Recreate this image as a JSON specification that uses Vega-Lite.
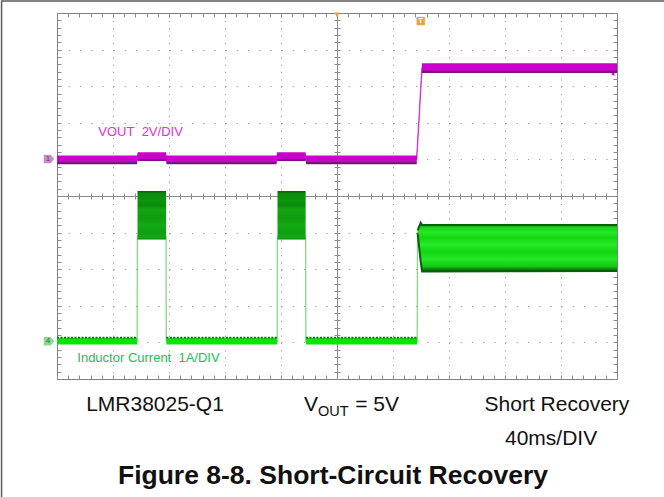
{
  "$schema": "https://vega.github.io/schema/vega-lite/v6.json",
  "width": 560,
  "height": 366,
  "autosize": {"type": "none"},
  "padding": {"left": 57, "top": 13, "right": 47, "bottom": 118},
  "background": "white",
  "config": {"view": {"stroke": "#7f7f7f", "strokeWidth": 1}, "font": "Liberation Sans"},
  "datasets": {
    "o": [{"t": 0, "d": 0}],
    "vout": [
      {"t": 0, "lo": -0.2, "hi": 0.21, "seg": "a"},
      {"t": 57.2, "lo": -0.2, "hi": 0.21, "seg": "a"},
      {"t": 57.6, "lo": -0.03, "hi": 0.39, "seg": "b"},
      {"t": 77.8, "lo": -0.03, "hi": 0.39, "seg": "b"},
      {"t": 78.2, "lo": -0.2, "hi": 0.21, "seg": "c"},
      {"t": 156.8, "lo": -0.2, "hi": 0.21, "seg": "c"},
      {"t": 157.2, "lo": -0.03, "hi": 0.39, "seg": "d"},
      {"t": 177.5, "lo": -0.03, "hi": 0.39, "seg": "d"},
      {"t": 177.9, "lo": -0.2, "hi": 0.21, "seg": "e"},
      {"t": 256.9, "lo": -0.2, "hi": 0.21, "seg": "e"},
      {"t": 260.7, "lo": 4.78, "hi": 5.25, "seg": "f"},
      {"t": 400, "lo": 4.78, "hi": 5.25, "seg": "f"}
    ],
    "vrise": [{"t": 256.9, "v": 0.0}, {"t": 260.7, "v": 5.0}],
    "ibase": [
      {"t": 0, "lo": -0.06, "hi": 0.13, "seg": "a"},
      {"t": 57.2, "lo": -0.06, "hi": 0.13, "seg": "a"},
      {"t": 78.1, "lo": -0.06, "hi": 0.13, "seg": "b"},
      {"t": 157.2, "lo": -0.06, "hi": 0.13, "seg": "b"},
      {"t": 177.8, "lo": -0.06, "hi": 0.13, "seg": "c"},
      {"t": 257.3, "lo": -0.06, "hi": 0.13, "seg": "c"}
    ],
    "ipulse": [
      {"t": 57.5, "lo": 2.81, "hi": 4.14, "seg": "p1"},
      {"t": 77.9, "lo": 2.81, "hi": 4.14, "seg": "p1"},
      {"t": 157.5, "lo": 2.81, "hi": 4.14, "seg": "p2"},
      {"t": 177.6, "lo": 2.81, "hi": 4.14, "seg": "p2"}
    ],
    "irun": [
      {"t": 257.6, "lo": 2.98, "hi": 3.06},
      {"t": 259.8, "lo": 2.2, "hi": 3.27},
      {"t": 260.8, "lo": 1.94, "hi": 3.21},
      {"t": 400, "lo": 1.95, "hi": 3.21}
    ],
    "ienv": [
      {"t": 0, "i": 0.03}, {"t": 57.25, "i": 0.03}, {"t": 57.4, "i": 2.9}, {"t": 77.9, "i": 2.9},
      {"t": 78.05, "i": 0.03}, {"t": 157.25, "i": 0.03}, {"t": 157.4, "i": 2.9}, {"t": 177.6, "i": 2.9},
      {"t": 177.75, "i": 0.03}, {"t": 257.3, "i": 0.03}, {"t": 257.5, "i": 3.0}, {"t": 258, "i": 3.0}
    ]
  },
  "resolve": {"scale": {"y": "independent"}, "axis": {"x": "independent", "y": "independent"}},
  "layer": [
    {
      "data": {"name": "o"},
      "mark": {"type": "point", "opacity": 0},
      "encoding": {
        "x": {"field": "t", "type": "quantitative", "scale": {"domain": [0, 400], "nice": false},
          "axis": {"orient": "bottom", "values": [40, 80, 120, 160, 240, 280, 320, 360], "grid": true, "gridColor": "#9a9a9a", "gridDash": [1.2, 6.12], "gridWidth": 1, "ticks": false, "labels": false, "domain": false, "title": null}},
        "y": {"field": "d", "type": "quantitative", "scale": {"domain": [-5, 5], "nice": false},
          "axis": {"orient": "left", "values": [-4, -3, -2, -1, 1, 2, 3, 4], "grid": true, "gridColor": "#9a9a9a", "gridDash": [1.2, 10], "gridWidth": 1, "ticks": false, "labels": false, "domain": false, "title": null}}
      }
    },
    {
      "data": {"name": "o"},
      "mark": {"type": "point", "opacity": 0},
      "encoding": {
        "x": {"field": "t", "type": "quantitative", "scale": {"domain": [0, 400], "nice": false},
          "axis": {"orient": "bottom", "values": [0,8,16,24,32,40,48,56,64,72,80,88,96,104,112,120,128,136,144,152,160,168,176,184,192,200,208,216,224,232,240,248,256,264,272,280,288,296,304,312,320,328,336,344,352,360,368,376,384,392,400], "grid": false, "ticks": true, "tickSize": -4, "tickColor": "#8c8c8c", "labels": false, "domain": false, "title": null}},
        "y": {"field": "d", "type": "quantitative", "scale": {"domain": [-5, 5], "nice": false},
          "axis": {"orient": "left", "values": [-5,-4.8,-4.6,-4.4,-4.2,-4,-3.8,-3.6,-3.4,-3.2,-3,-2.8,-2.6,-2.4,-2.2,-2,-1.8,-1.6,-1.4,-1.2,-1,-0.8,-0.6,-0.4,-0.2,0,0.2,0.4,0.6,0.8,1,1.2,1.4,1.6,1.8,2,2.2,2.4,2.6,2.8,3,3.2,3.4,3.6,3.8,4,4.2,4.4,4.6,4.8,5], "grid": false, "ticks": true, "tickSize": -4, "tickColor": "#8c8c8c", "labels": false, "domain": false, "title": null}}
      }
    },
    {
      "data": {"name": "o"},
      "mark": {"type": "point", "opacity": 0},
      "encoding": {
        "x": {"field": "t", "type": "quantitative", "scale": {"domain": [0, 400], "nice": false},
          "axis": {"orient": "top", "values": [0,8,16,24,32,40,48,56,64,72,80,88,96,104,112,120,128,136,144,152,160,168,176,184,192,200,208,216,224,232,240,248,256,264,272,280,288,296,304,312,320,328,336,344,352,360,368,376,384,392,400], "grid": false, "ticks": true, "tickSize": -4, "tickColor": "#8c8c8c", "labels": false, "domain": false, "title": null}},
        "y": {"field": "d", "type": "quantitative", "scale": {"domain": [-5, 5], "nice": false},
          "axis": {"orient": "right", "values": [-5,-4.8,-4.6,-4.4,-4.2,-4,-3.8,-3.6,-3.4,-3.2,-3,-2.8,-2.6,-2.4,-2.2,-2,-1.8,-1.6,-1.4,-1.2,-1,-0.8,-0.6,-0.4,-0.2,0,0.2,0.4,0.6,0.8,1,1.2,1.4,1.6,1.8,2,2.2,2.4,2.6,2.8,3,3.2,3.4,3.6,3.8,4,4.2,4.4,4.6,4.8,5], "grid": false, "ticks": true, "tickSize": -4, "tickColor": "#8c8c8c", "labels": false, "domain": false, "title": null}}
      }
    },
    {
      "data": {"name": "o"},
      "mark": {"type": "point", "opacity": 0},
      "encoding": {
        "x": {"field": "t", "type": "quantitative", "scale": {"domain": [0, 400], "nice": false},
          "axis": {"orient": "bottom", "offset": -183, "values": [0,8,16,24,32,40,48,56,64,72,80,88,96,104,112,120,128,136,144,152,160,168,176,184,192,200,208,216,224,232,240,248,256,264,272,280,288,296,304,312,320,328,336,344,352,360,368,376,384,392,400], "grid": false, "ticks": true, "tickSize": 3, "tickColor": "#8c8c8c", "labels": false, "domain": true, "domainColor": "#8c8c8c", "title": null}},
        "y": {"field": "d", "type": "quantitative", "scale": {"domain": [-5, 5], "nice": false},
          "axis": {"orient": "left", "offset": -280, "values": [-5,-4.8,-4.6,-4.4,-4.2,-4,-3.8,-3.6,-3.4,-3.2,-3,-2.8,-2.6,-2.4,-2.2,-2,-1.8,-1.6,-1.4,-1.2,-1,-0.8,-0.6,-0.4,-0.2,0,0.2,0.4,0.6,0.8,1,1.2,1.4,1.6,1.8,2,2.2,2.4,2.6,2.8,3,3.2,3.4,3.6,3.8,4,4.2,4.4,4.6,4.8,5], "grid": false, "ticks": true, "tickSize": 3, "tickColor": "#8c8c8c", "labels": false, "domain": true, "domainColor": "#8c8c8c", "title": null}}
      }
    },
    {
      "data": {"name": "o"},
      "mark": {"type": "point", "opacity": 0},
      "encoding": {
        "x": {"field": "t", "type": "quantitative", "scale": {"domain": [0, 400], "nice": false},
          "axis": {"orient": "top", "offset": -183, "values": [0,8,16,24,32,40,48,56,64,72,80,88,96,104,112,120,128,136,144,152,160,168,176,184,192,200,208,216,224,232,240,248,256,264,272,280,288,296,304,312,320,328,336,344,352,360,368,376,384,392,400], "grid": false, "ticks": true, "tickSize": 3, "tickColor": "#8c8c8c", "labels": false, "domain": false, "title": null}},
        "y": {"field": "d", "type": "quantitative", "scale": {"domain": [-5, 5], "nice": false},
          "axis": {"orient": "right", "offset": -280, "values": [-5,-4.8,-4.6,-4.4,-4.2,-4,-3.8,-3.6,-3.4,-3.2,-3,-2.8,-2.6,-2.4,-2.2,-2,-1.8,-1.6,-1.4,-1.2,-1,-0.8,-0.6,-0.4,-0.2,0,0.2,0.4,0.6,0.8,1,1.2,1.4,1.6,1.8,2,2.2,2.4,2.6,2.8,3,3.2,3.4,3.6,3.8,4,4.2,4.4,4.6,4.8,5], "grid": false, "ticks": true, "tickSize": 3, "tickColor": "#8c8c8c", "labels": false, "domain": false, "title": null}}
      }
    },
    {
      "data": {"name": "ienv"},
      "mark": {"type": "line", "color": "#7cd67c", "strokeWidth": 1.2},
      "encoding": {
        "x": {"field": "t", "type": "quantitative", "scale": {"domain": [0, 400], "nice": false}, "axis": null},
        "y": {"field": "i", "type": "quantitative", "scale": {"domain": [-1, 9], "nice": false}, "axis": null}
      }
    },
    {
      "data": {"name": "ibase"},
      "mark": {"type": "area", "color": "#0be30b"},
      "encoding": {
        "x": {"field": "t", "type": "quantitative", "scale": {"domain": [0, 400], "nice": false}, "axis": null},
        "y": {"field": "lo", "type": "quantitative", "scale": {"domain": [-1, 9], "nice": false}, "axis": null},
        "y2": {"field": "hi"},
        "detail": {"field": "seg"}
      }
    },
    {
      "data": {"name": "ibase"},
      "mark": {"type": "line", "color": "#166e16", "strokeWidth": 1.6, "strokeDash": [2, 1.5]},
      "encoding": {
        "x": {"field": "t", "type": "quantitative", "scale": {"domain": [0, 400], "nice": false}, "axis": null},
        "y": {"field": "hi", "type": "quantitative", "scale": {"domain": [-1, 9], "nice": false}, "axis": null},
        "detail": {"field": "seg"}
      }
    },
    {
      "data": {"name": "ipulse"},
      "mark": {"type": "area", "color": {"gradient": "linear", "x1": 0, "y1": 0, "x2": 0, "y2": 1, "stops": [
        {"offset": 0, "color": "#0a5a0a"}, {"offset": 0.05, "color": "#0c880c"}, {"offset": 0.2, "color": "#0a960a"},
        {"offset": 0.3, "color": "#0c8a0c"}, {"offset": 0.38, "color": "#11a611"}, {"offset": 0.55, "color": "#0f9c0f"},
        {"offset": 0.7, "color": "#13ab13"}, {"offset": 0.85, "color": "#0f9e0f"}, {"offset": 0.96, "color": "#12aa12"}, {"offset": 1, "color": "#0c7a0c"}]}},
      "encoding": {
        "x": {"field": "t", "type": "quantitative", "scale": {"domain": [0, 400], "nice": false}, "axis": null},
        "y": {"field": "lo", "type": "quantitative", "scale": {"domain": [-1, 9], "nice": false}, "axis": null},
        "y2": {"field": "hi"},
        "detail": {"field": "seg"}
      }
    },
    {
      "data": {"name": "irun"},
      "mark": {"type": "area", "color": {"gradient": "linear", "x1": 0, "y1": 0, "x2": 0, "y2": 1, "stops": [
        {"offset": 0, "color": "#0a5c0a"}, {"offset": 0.05, "color": "#0b8f0b"}, {"offset": 0.09, "color": "#14d414"},
        {"offset": 0.2, "color": "#26e826"}, {"offset": 0.3, "color": "#12d612"}, {"offset": 0.45, "color": "#28ea28"},
        {"offset": 0.6, "color": "#12d612"}, {"offset": 0.75, "color": "#26e626"}, {"offset": 0.9, "color": "#12c812"},
        {"offset": 0.95, "color": "#0a8a0a"}, {"offset": 1, "color": "#0a5c0a"}]}},
      "encoding": {
        "x": {"field": "t", "type": "quantitative", "scale": {"domain": [0, 400], "nice": false}, "axis": null},
        "y": {"field": "lo", "type": "quantitative", "scale": {"domain": [-1, 9], "nice": false}, "axis": null},
        "y2": {"field": "hi"}
      }
    },
    {
      "data": {"name": "irun"},
      "mark": {"type": "line", "color": "#0b5d0b", "strokeWidth": 2},
      "encoding": {
        "x": {"field": "t", "type": "quantitative", "scale": {"domain": [0, 400], "nice": false}, "axis": null},
        "y": {"field": "hi", "type": "quantitative", "scale": {"domain": [-1, 9], "nice": false}, "axis": null}
      }
    },
    {
      "data": {"name": "irun"},
      "mark": {"type": "line", "color": "#0b5d0b", "strokeWidth": 2},
      "encoding": {
        "x": {"field": "t", "type": "quantitative", "scale": {"domain": [0, 400], "nice": false}, "axis": null},
        "y": {"field": "lo", "type": "quantitative", "scale": {"domain": [-1, 9], "nice": false}, "axis": null}
      }
    },
    {
      "data": {"name": "vrise"},
      "mark": {"type": "line", "color": "#d36ad3", "strokeWidth": 1.5},
      "encoding": {
        "x": {"field": "t", "type": "quantitative", "scale": {"domain": [0, 400], "nice": false}, "axis": null},
        "y": {"field": "v", "type": "quantitative", "scale": {"domain": [-12, 8], "nice": false}, "axis": null}
      }
    },
    {
      "data": {"name": "vout"},
      "mark": {"type": "area", "color": "#cc00cc"},
      "encoding": {
        "x": {"field": "t", "type": "quantitative", "scale": {"domain": [0, 400], "nice": false}, "axis": null},
        "y": {"field": "lo", "type": "quantitative", "scale": {"domain": [-12, 8], "nice": false}, "axis": null},
        "y2": {"field": "hi"}
      }
    },
    {
      "data": {"name": "vout"},
      "mark": {"type": "line", "color": "#7d107d", "strokeWidth": 2.2},
      "encoding": {
        "x": {"field": "t", "type": "quantitative", "scale": {"domain": [0, 400], "nice": false}, "axis": null},
        "y": {"field": "lo", "type": "quantitative", "scale": {"domain": [-12, 8], "nice": false}, "axis": null},
        "detail": {"field": "seg"}
      }
    },
    {
      "data": {"name": "o"},
      "mark": {"type": "text", "text": "VOUT\u00a0 2V/DIV", "align": "left", "baseline": "middle", "fontSize": 13, "color": "#e030e0"},
      "encoding": {
        "x": {"datum": 29.5, "type": "quantitative", "scale": {"domain": [0, 400], "nice": false}, "axis": null},
        "y": {"datum": 1.74, "type": "quantitative", "scale": {"domain": [-5, 5], "nice": false}, "axis": null}
      }
    },
    {
      "data": {"name": "o"},
      "mark": {"type": "text", "text": "Inductor Current\u00a0 1A/DIV", "align": "left", "baseline": "middle", "fontSize": 13, "color": "#20c05a"},
      "encoding": {
        "x": {"datum": 14.5, "type": "quantitative", "scale": {"domain": [0, 400], "nice": false}, "axis": null},
        "y": {"datum": -4.43, "type": "quantitative", "scale": {"domain": [-5, 5], "nice": false}, "axis": null}
      }
    },
    {
      "data": {"name": "o"},
      "mark": {"type": "point", "shape": "M-1,-0.8L0.3,-0.8L1,0L0.3,0.8L-1,0.8Z", "size": 110, "filled": true, "color": "#c58dc5", "opacity": 1},
      "encoding": {
        "x": {"datum": -5.7, "type": "quantitative", "scale": {"domain": [0, 400], "nice": false}, "axis": null},
        "y": {"datum": 1.01, "type": "quantitative", "scale": {"domain": [-5, 5], "nice": false}, "axis": null}
      }
    },
    {
      "data": {"name": "o"},
      "mark": {"type": "text", "text": "1", "align": "center", "baseline": "middle", "fontSize": 8, "color": "#7a3a7a", "dx": -1},
      "encoding": {
        "x": {"datum": -5.7, "type": "quantitative", "scale": {"domain": [0, 400], "nice": false}, "axis": null},
        "y": {"datum": 1.01, "type": "quantitative", "scale": {"domain": [-5, 5], "nice": false}, "axis": null}
      }
    },
    {
      "data": {"name": "o"},
      "mark": {"type": "point", "shape": "M-1,-0.8L0.3,-0.8L1,0L0.3,0.8L-1,0.8Z", "size": 110, "filled": true, "color": "#8ed88e", "opacity": 1},
      "encoding": {
        "x": {"datum": -5.7, "type": "quantitative", "scale": {"domain": [0, 400], "nice": false}, "axis": null},
        "y": {"datum": -3.97, "type": "quantitative", "scale": {"domain": [-5, 5], "nice": false}, "axis": null}
      }
    },
    {
      "data": {"name": "o"},
      "mark": {"type": "text", "text": "4", "align": "center", "baseline": "middle", "fontSize": 8, "color": "#2a7a2a", "dx": -1},
      "encoding": {
        "x": {"datum": -5.7, "type": "quantitative", "scale": {"domain": [0, 400], "nice": false}, "axis": null},
        "y": {"datum": -3.97, "type": "quantitative", "scale": {"domain": [-5, 5], "nice": false}, "axis": null}
      }
    },
    {
      "data": {"name": "o"},
      "mark": {"type": "point", "shape": "triangle-down", "size": 30, "filled": true, "color": "#f0a030", "opacity": 1},
      "encoding": {
        "x": {"datum": 200, "type": "quantitative", "scale": {"domain": [0, 400], "nice": false}, "axis": null},
        "y": {"datum": 4.95, "type": "quantitative", "scale": {"domain": [-5, 5], "nice": false}, "axis": null}
      }
    },
    {
      "data": {"name": "o"},
      "mark": {"type": "point", "shape": "square", "size": 70, "filled": true, "color": "#f2a23a", "opacity": 1},
      "encoding": {
        "x": {"datum": 259.8, "type": "quantitative", "scale": {"domain": [0, 400], "nice": false}, "axis": null},
        "y": {"datum": 4.78, "type": "quantitative", "scale": {"domain": [-5, 5], "nice": false}, "axis": null}
      }
    },
    {
      "data": {"name": "o"},
      "mark": {"type": "text", "text": "T", "align": "center", "baseline": "middle", "fontSize": 8, "fontWeight": "bold", "color": "white"},
      "encoding": {
        "x": {"datum": 259.8, "type": "quantitative", "scale": {"domain": [0, 400], "nice": false}, "axis": null},
        "y": {"datum": 4.78, "type": "quantitative", "scale": {"domain": [-5, 5], "nice": false}, "axis": null}
      }
    },
    {
      "data": {"name": "o"},
      "mark": {"type": "point", "shape": "triangle-left", "size": 16, "filled": true, "color": "#cc00cc", "opacity": 1},
      "encoding": {
        "x": {"datum": 396.9, "type": "quantitative", "scale": {"domain": [0, 400], "nice": false}, "axis": null},
        "y": {"datum": 3.33, "type": "quantitative", "scale": {"domain": [-5, 5], "nice": false}, "axis": null}
      }
    },
    {
      "data": {"name": "o"},
      "mark": {"type": "text", "text": "LMR38025-Q1", "align": "center", "baseline": "alphabetic", "fontSize": 21, "color": "#111111"},
      "encoding": {
        "x": {"datum": 70.0, "type": "quantitative", "scale": {"domain": [0, 400], "nice": false}, "axis": null},
        "y": {"datum": -5.87, "type": "quantitative", "scale": {"domain": [-5, 5], "nice": false}, "axis": null}
      }
    },
    {
      "data": {"name": "o"},
      "mark": {"type": "text", "text": "V", "align": "left", "baseline": "alphabetic", "fontSize": 21, "color": "#111111"},
      "encoding": {
        "x": {"datum": 176.4, "type": "quantitative", "scale": {"domain": [0, 400], "nice": false}, "axis": null},
        "y": {"datum": -5.87, "type": "quantitative", "scale": {"domain": [-5, 5], "nice": false}, "axis": null}
      }
    },
    {
      "data": {"name": "o"},
      "mark": {"type": "text", "text": "OUT", "align": "left", "baseline": "alphabetic", "fontSize": 14.5, "color": "#111111"},
      "encoding": {
        "x": {"datum": 186.4, "type": "quantitative", "scale": {"domain": [0, 400], "nice": false}, "axis": null},
        "y": {"datum": -6.01, "type": "quantitative", "scale": {"domain": [-5, 5], "nice": false}, "axis": null}
      }
    },
    {
      "data": {"name": "o"},
      "mark": {"type": "text", "text": "= 5V", "align": "left", "baseline": "alphabetic", "fontSize": 21, "color": "#111111"},
      "encoding": {
        "x": {"datum": 213.0, "type": "quantitative", "scale": {"domain": [0, 400], "nice": false}, "axis": null},
        "y": {"datum": -5.87, "type": "quantitative", "scale": {"domain": [-5, 5], "nice": false}, "axis": null}
      }
    },
    {
      "data": {"name": "o"},
      "mark": {"type": "text", "text": "Short Recovery", "align": "center", "baseline": "alphabetic", "fontSize": 21, "color": "#111111"},
      "encoding": {
        "x": {"datum": 357.1, "type": "quantitative", "scale": {"domain": [0, 400], "nice": false}, "axis": null},
        "y": {"datum": -5.87, "type": "quantitative", "scale": {"domain": [-5, 5], "nice": false}, "axis": null}
      }
    },
    {
      "data": {"name": "o"},
      "mark": {"type": "text", "text": "40ms/DIV", "align": "center", "baseline": "alphabetic", "fontSize": 21, "color": "#111111"},
      "encoding": {
        "x": {"datum": 352.9, "type": "quantitative", "scale": {"domain": [0, 400], "nice": false}, "axis": null},
        "y": {"datum": -6.8, "type": "quantitative", "scale": {"domain": [-5, 5], "nice": false}, "axis": null}
      }
    },
    {
      "data": {"name": "o"},
      "mark": {"type": "text", "text": "Figure 8-8. Short-Circuit Recovery", "align": "center", "baseline": "alphabetic", "fontSize": 26.5, "fontWeight": "bold", "color": "#111111"},
      "encoding": {
        "x": {"datum": 197.1, "type": "quantitative", "scale": {"domain": [0, 400], "nice": false}, "axis": null},
        "y": {"datum": -7.87, "type": "quantitative", "scale": {"domain": [-5, 5], "nice": false}, "axis": null}
      }
    },
    {
      "data": {"name": "o"},
      "mark": {"type": "rule", "color": "#5a5a5a", "strokeWidth": 1.5},
      "encoding": {
        "x": {"datum": -40, "type": "quantitative", "scale": {"domain": [0, 400], "nice": false}, "axis": null},
        "x2": {"datum": 434},
        "y": {"datum": 5.33, "type": "quantitative", "scale": {"domain": [-5, 5], "nice": false}, "axis": null}
      }
    },
    {
      "data": {"name": "o"},
      "mark": {"type": "rule", "color": "#5a5a5a", "strokeWidth": 1.5},
      "encoding": {
        "x": {"datum": -39.6, "type": "quantitative", "scale": {"domain": [0, 400], "nice": false}, "axis": null},
        "y": {"datum": 5.33, "type": "quantitative", "scale": {"domain": [-5, 5], "nice": false}, "axis": null},
        "y2": {"datum": -8.3}
      }
    }
  ]
}
